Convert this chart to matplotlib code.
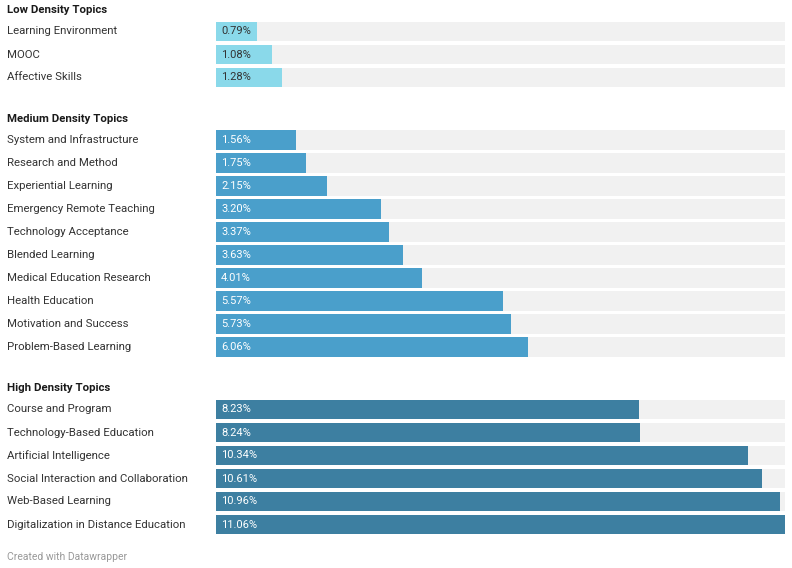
import matplotlib.pyplot as plt

plt.rcParams['font.family'] = ['Roboto', 'DejaVu Sans']

group_titles = ["Low Density Topics", "Medium Density Topics", "High Density Topics"]

low_topics = ["Learning Environment", "MOOC", "Affective Skills"]
low_values = [0.79, 1.08, 1.28]

medium_topics = ["System and Infrastructure", "Research and Method", "Experiential Learning",
                 "Emergency Remote Teaching", "Technology Acceptance", "Blended Learning",
                 "Medical Education Research", "Health Education", "Motivation and Success",
                 "Problem-Based Learning"]
medium_values = [1.56, 1.75, 2.15, 3.20, 3.37, 3.63, 4.01, 5.57, 5.73, 6.06]

high_topics = ["Course and Program", "Technology-Based Education", "Artificial Intelligence",
               "Social Interaction and Collaboration", "Web-Based Learning",
               "Digitalization in Distance Education"]
high_values = [8.23, 8.24, 10.34, 10.61, 10.96, 11.06]

groups = [(low_topics, low_values, "#8ad9ea", "#333333"),
          (medium_topics, medium_values, "#4a9fcb", "white"),
          (high_topics, high_values, "#3d7fa1", "white")]

W, H = 792, 568
fig = plt.figure(figsize=(W / 100, H / 100), dpi=100)

# bar area: x pixels 216..785, y in pixel units (top = 0)
x0, x1 = 216, 785
ax = fig.add_axes([x0 / W, 0, (x1 - x0) / W, 1])
xmax = max(high_values)
ax.set_xlim(0, xmax)
ax.set_ylim(H, 0)
ax.axis("off")

# whole-figure axes for the labels
tx = fig.add_axes([0, 0, 1, 1], zorder=-1)
tx.set_xlim(0, W)
tx.set_ylim(H, 0)
tx.axis("off")

pitch = 23
bar_h = 19.5
y = 10
for title, (topics, values, color, tcolor) in zip(group_titles, groups):
    tx.text(7, y, title, fontsize=8.2, fontweight="bold", color="#1a1a1a", va="center")
    y += 21.5
    for name, v in zip(topics, values):
        tx.text(7, y, name, fontsize=8.2, color="#333333", va="center")
        ax.barh(y, xmax, height=bar_h, color="#f1f1f1", zorder=1)
        ax.barh(y, v, height=bar_h, color=color, zorder=2)
        ax.text(0.1, y, f"{v:.2f}%", fontsize=8, color=tcolor, va="center", ha="left", zorder=3)
        y += pitch
    y += 40 - pitch + 1

tx.text(7, 557, "Created with Datawrapper", fontsize=7.5, color="#999999", va="center")

fig.savefig("out.png", dpi=100, facecolor="white")
